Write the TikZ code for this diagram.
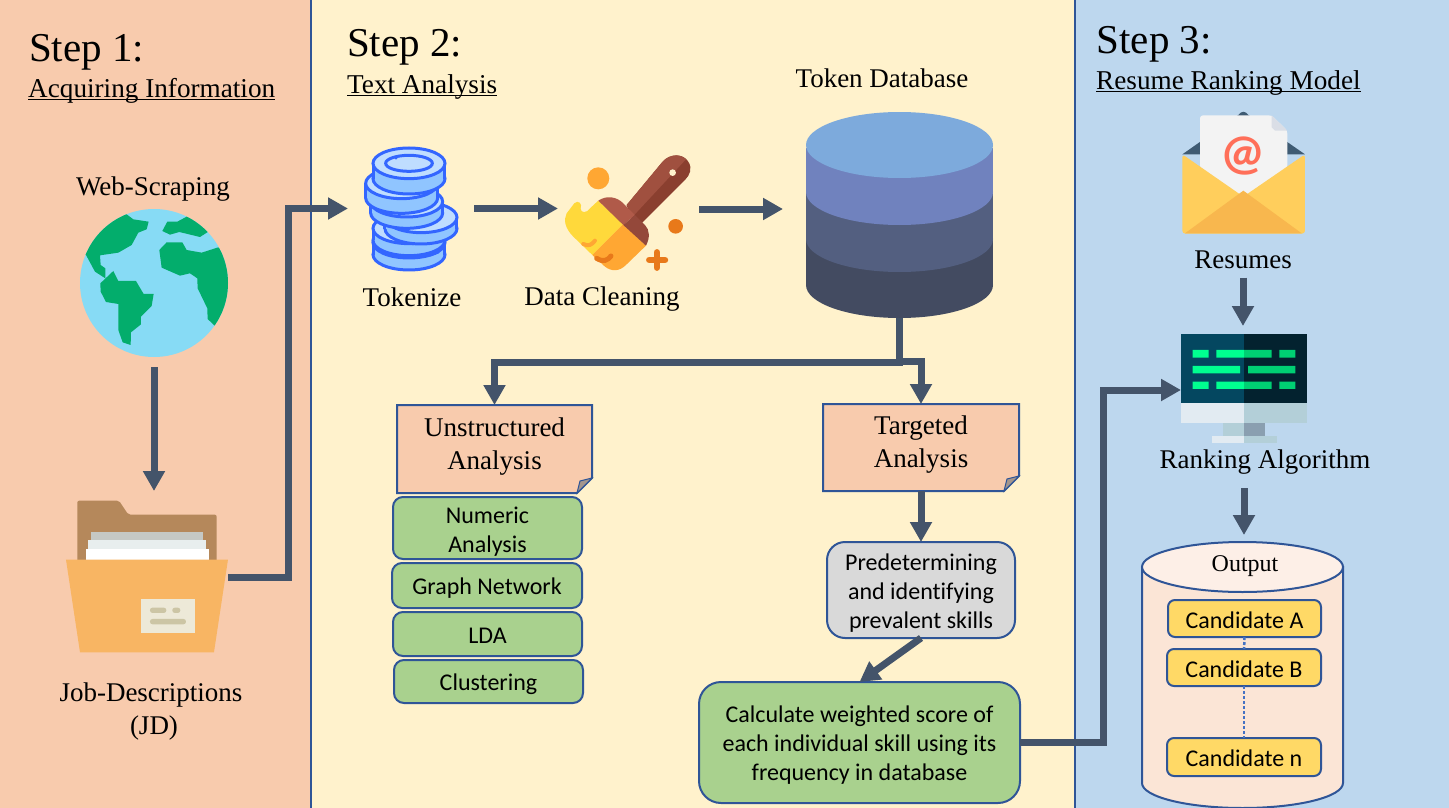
\documentclass[tikz,border=0pt]{standalone}
\usepackage{fontspec}
\setmainfont{Liberation Serif}
\newfontfamily\sansf[Ligatures=NoCommon]{Carlito}
\usetikzlibrary{arrows.meta,backgrounds,calc}
\definecolor{panA}{HTML}{F8CBAD}
\definecolor{panB}{HTML}{FFF2CC}
\definecolor{panC}{HTML}{BDD7EE}
\definecolor{edgeblue}{HTML}{2F5597}
\definecolor{conncol}{HTML}{44546A}
\definecolor{greenbox}{HTML}{A9D18E}
\definecolor{greybox}{HTML}{D9D9D9}
\definecolor{goldbox}{HTML}{FFD966}
\definecolor{coinline}{HTML}{3366FF}
\definecolor{coinfill}{HTML}{90C5FF}
\definecolor{coinlight}{HTML}{BFDDFF}
\definecolor{dotblue}{HTML}{4472C4}
\tikzset{
  conn/.style={draw=conncol,line width=7pt,line join=miter,-{Triangle[width=21pt,length=20pt]}},
  iconbox/.style={inner sep=0pt,outer sep=0pt,minimum width=#1},
  iconh/.style={minimum height=#1},
  serif27/.style={font=\fontsize{27}{33}\selectfont,align=center,inner sep=0pt},
  steptitle/.style={font=\fontsize{41}{44}\selectfont,anchor=base west,inner sep=0pt},
  subtitle/.style={font=\fontsize{27.2}{33}\selectfont,anchor=base west,inner sep=0pt},
  notebox/.style={inner sep=0pt,outer sep=0pt,minimum width=#1},
  notetext/.style={font=\fontsize{27}{33}\selectfont,align=center,inner sep=0pt,yshift=2.5pt},
  softbox/.style={draw=edgeblue,line width=2pt,rounded corners=#1,inner sep=0pt,outer sep=0pt,
     font=\sansf\fontsize{24}{29}\selectfont,align=center},
  twod/.style={dash pattern=on 3pt off 2pt,line width=2.5pt,draw=dotblue},
  cl/.style={draw=coinline,line width=3pt},
}
\newcommand{\ulin}[1]{\setbox0=\hbox{#1}\rlap{\rule[-3.2pt]{\wd0}{1.3pt}}\box0}
\newcommand{\lowr}[1]{\rule{0pt}{#1pt}}
\newcommand{\coinpiece}[3]{%
  \filldraw[cl,fill=coinfill] (#1,#2+#3) circle [x radius=108,y radius=46];
  \fill[coinfill] (#1-108,#2) rectangle (#1+108,#2+#3);
  \draw[cl] (#1-108,#2) -- (#1-108,#2+#3) (#1+108,#2) -- (#1+108,#2+#3);
  \filldraw[cl,fill=coinlight] (#1,#2) circle [x radius=108,y radius=46];
}
\newcommand{\foldshape}[1]{%
  \begin{pgfonlayer}{background}
    \filldraw[draw=edgeblue,line width=2pt,fill=panA,line join=miter]
      (#1.north west) -- (#1.north east) -- ([yshift=15pt]#1.south east)
      -- ([xshift=-15pt]#1.south east) -- (#1.south west) -- cycle;
    \filldraw[draw=edgeblue,line width=1pt,fill=gray!70!panA]
      ([yshift=15pt]#1.south east) -- ([xshift=-12pt,yshift=12pt]#1.south east)
      -- ([xshift=-15pt]#1.south east) -- cycle;
  \end{pgfonlayer}}
\begin{document}
\begin{tikzpicture}[x=1pt,y=-1pt]
\useasboundingbox (0,0) rectangle (1449,808);
\begin{pgfonlayer}{background}
  \fill[panA] (0,0) rectangle (311,808);
  \fill[panB] (311,0) rectangle (1075,808);
  \fill[panC] (1075,0) rectangle (1449,808);
  \draw[edgeblue,line width=1.5pt] (311,0) -- (311,808) (1075,0) -- (1075,808);
\end{pgfonlayer}

% titles
\node[steptitle] (s1) at (29,62) {Step 1:};
\node[subtitle] (s1b) at (28,97.3) {\ulin{Acquiring Information}};
\node[steptitle] (s2) at (347,57) {Step 2:};
\node[subtitle] (s2b) at (347,93) {\ulin{Text Analysis}};
\node[steptitle] (s3) at (1096.5,53.5) {Step 3:};
\node[subtitle] (s3b) at (1096,89.3) {\ulin{Resume Ranking Model}};

% globe
\node[circle,inner sep=0pt,outer sep=0pt,minimum size=148pt,fill={rgb,255:red,135;green,219;blue,245}] (globe) at (154,283) {};
\begin{scope}
\clip (154,283) circle [radius=74];
\begin{scope}[shift={(0,170)},x=0.3333pt,y=-0.3333pt]
\definecolor{land}{HTML}{03AD6C}
\fill[land] (380,133) -- (400,148) -- (446,155) -- (440,178) -- (415,188) -- (395,225) -- (355,248) -- (300,256) -- (302,285) -- (316,295) -- (316,325) -- (285,305) -- (258,255) -- (200,200) -- (300,100) -- cycle;
\fill[land] (340,303) -- (355,333) -- (408,333) -- (431,372) -- (461,372) -- (455,408) -- (423,440) -- (423,463) -- (393,487) -- (392,525) -- (368,517) -- (355,480) -- (355,402) -- (318,396) -- (302,365) -- (301,340) -- cycle;
\fill[land] (487,183) -- (502,155) -- (532,155) -- (560,140) -- (600,120) -- (640,170) -- (622,187) -- (600,201) -- (538,186) -- (510,194) -- cycle;
\fill[land] (478,240) -- (500,217) -- (547,217) -- (560,240) -- (605,248) -- (655,232) -- (720,300) -- (700,440) -- (645,468) -- (623,447) -- (622,415) -- (593,355) -- (592,325) -- (570,310) -- (540,317) -- (485,293) -- cycle;
\end{scope}
\end{scope}

% folder
\node[iconbox=162pt,iconh=152pt] (folder) at (147,577) {};
\begin{scope}[shift={(0,170)},x=0.3333pt,y=-0.3333pt]
\fill[rounded corners=2pt,color={rgb,255:red,181;green,136;blue,91}] (232,992) -- (357,992) -- (385,1034) -- (650,1034) -- (650,1175) -- (232,1175) -- cycle;
\fill[color={rgb,255:red,197;green,200;blue,196}] (273,1085) rectangle (609,1110);
\fill[color={rgb,255:red,232;green,238;blue,238}] (265,1110) rectangle (618,1136);
\fill[white] (257,1136) rectangle (626,1170);
\fill[color={rgb,255:red,248;green,181;blue,99}] (198,1169) -- (684,1169) -- (642,1447) -- (240,1447) -- cycle;
\fill[color={rgb,255:red,237;green,233;blue,216}] (424,1287) rectangle (584,1388);
\fill[rounded corners=2.5pt,color={rgb,255:red,204;green,197;blue,165}] (450,1313) rectangle (499,1329) (517,1313) rectangle (541,1329) (450,1347) rectangle (558,1363);
\end{scope}

% tokenize icon
\node[iconbox=93pt,iconh=125pt] (tok) at (411.5,208.5) {};
\begin{scope}[shift={(340,130)},x=0.3333pt,y=-0.3333pt]
\coinpiece{207}{338}{36}
\coinpiece{207}{295}{36}
\coinpiece{243}{262}{34}
\coinpiece{200}{215}{34}
\coinpiece{185}{160}{44}
\coinpiece{207}{100}{46}
\draw[cl] (207,100) circle [x radius=70,y radius=24];
\fill[coinline] (168,84) circle [radius=5] (250,378) circle [radius=6];
\draw[cl,line cap=round] (270,375) -- (295,366);
\end{scope}

% brush icon
\node[iconbox=126pt,iconh=124pt] (brush) at (628,209) {};
\begin{scope}[shift={(340,130)},x=0.3333pt,y=-0.3333pt]
\definecolor{hdark}{HTML}{8A3F2F}\definecolor{hlight}{HTML}{A0503F}
\definecolor{flight}{HTML}{B05A49}\definecolor{fdark}{HTML}{94483A}
\definecolor{byel}{HTML}{FFD93B}\definecolor{borg}{HTML}{FFA733}\definecolor{bdeep}{HTML}{E8791A}
\fill[hdark] (860,225) -- (968,95) .. controls (990,70) and (1030,70) .. (1045,95) .. controls (1058,115) and (1050,135) .. (1035,150) -- (885,300) -- cycle;
\fill[hlight] (860,225) -- (968,95) .. controls (990,70) and (1025,72) .. (1038,88) -- (880,258) -- cycle;
\fill[panB] (998,128) circle [radius=10];
\fill[byel] (775,212) -- (850,282) -- (757,375) -- (700,320) .. controls (675,295) and (670,270) .. (680,250) -- (703,220) .. controls (715,208) and (728,222) .. (722,235) .. controls (722,250) and (740,250) .. (750,235) -- cycle;
\fill[borg] (850,282) -- (918,347) -- (858,405) .. controls (838,425) and (815,425) .. (795,410) -- (757,375) -- cycle;
\fill[flight] (775,212) .. controls (800,195) and (830,200) .. (850,220) -- (885,255) -- (850,285) -- cycle;
\fill[fdark] (885,255) -- (915,285) .. controls (930,300) and (930,325) .. (918,347) -- (850,285) -- cycle;
\draw[borg,line width=4pt,line cap=round] (730,342) .. controls (745,350) and (755,345) .. (765,332);
\draw[bdeep,line width=5pt,line cap=round] (770,385) .. controls (790,398) and (805,390) .. (813,378);
\fill[borg] (775,145) circle [radius=33];
\fill[bdeep] (1007,289) circle [radius=22];
\draw[bdeep,line width=6.5pt,line cap=round] (951,367) -- (951,413) (928,390) -- (975,390);
\end{scope}

% database
\node[iconbox=187pt,iconh=206pt] (db) at (899.5,215) {};
\fill[color={rgb,255:red,67;green,75;blue,97}] (899.5,285) circle [x radius=93.5,y radius=33];
\fill[color={rgb,255:red,67;green,75;blue,97}] (806,148) rectangle (993,285);
\fill[color={rgb,255:red,83;green,95;blue,128}] (899.5,239) circle [x radius=93.5,y radius=33];
\fill[color={rgb,255:red,83;green,95;blue,128}] (806,148) rectangle (993,239);
\fill[color={rgb,255:red,112;green,130;blue,190}] (899.5,192) circle [x radius=93.5,y radius=33];
\fill[color={rgb,255:red,112;green,130;blue,190}] (806,148) rectangle (993,192);
\fill[color={rgb,255:red,125;green,170;blue,220}] (899.5,145) circle [x radius=93.5,y radius=33];

% envelope
\node[iconbox=124pt,iconh=122pt] (env) at (1243.5,173) {};
\begin{scope}[shift={(1150,100)},x=0.3333pt,y=-0.3333pt]
\fill[color={rgb,255:red,63;green,91;blue,115}] (97,163) -- (265,45) .. controls (275,32) and (285,32) .. (295,45) -- (465,163) -- cycle;
\fill[color={rgb,255:red,243;green,243;blue,243},rounded corners=3pt] (150,46) -- (365,46) -- (412,92) -- (412,205) -- (280,295) -- (150,205) -- cycle;
\fill[color={rgb,255:red,218;green,222;blue,230}] (365,46) -- (412,92) -- (375,92) -- (365,82) -- cycle;
\fill[color={rgb,255:red,255;green,206;blue,92},rounded corners=3pt] (97,163) -- (280,290) -- (465,163) -- (465,401) -- (97,401) -- cycle;
\fill[color={rgb,255:red,248;green,183;blue,78}] (105,400) -- (280,272) -- (455,400) -- cycle;
\end{scope}
\node[font=\sansf\bfseries\fontsize{50}{50}\selectfont,text={rgb,255:red,255;green,111;blue,89},inner sep=0pt] (atsign) at (1243,156) {@};

% monitor
\node[iconbox=126pt,iconh=112pt] (mon) at (1244,390) {};
\begin{scope}[shift={(1150,100)},x=0.3333pt,y=-0.3333pt]
\definecolor{gb}{HTML}{00FF90}\definecolor{gd}{HTML}{00CF73}
\definecolor{mlight}{HTML}{E2EBF2}\definecolor{mmid}{HTML}{B3CFD8}\definecolor{mdark}{HTML}{8A9FB0}
\fill[color={rgb,255:red,4;green,71;blue,96}] (93,703) rectangle (282,908);
\fill[color={rgb,255:red,3;green,34;blue,47}] (282,703) rectangle (471,908);
\fill[gb] (128,750) rectangle (176,773) (199,750) rectangle (282,773) (128,798) rectangle (270,820) (128,845) rectangle (176,867) (199,845) rectangle (282,867);
\fill[gd] (282,750) rectangle (365,773) (388,750) rectangle (436,773) (294,798) rectangle (436,820) (282,845) rectangle (365,867) (388,845) rectangle (436,867);
\fill[mlight] (93,908) rectangle (282,970);
\fill[mmid] (282,908) rectangle (471,970);
\fill[mmid] (220,970) rectangle (282,1008);
\fill[mdark] (282,970) rectangle (345,1008);
\fill[mlight] (185,1008) rectangle (282,1028);
\fill[mmid] (282,1008) rectangle (380,1028);
\end{scope}

% labels
\node[serif27] (lweb) at (153,189) {Web-Scraping};
\node[serif27] (ljd) at (151,712) {Job-Descriptions\\\hspace{6pt}(JD)};
\node[serif27] (ltok) at (412,297.5) {Tokenize};
\node[serif27] (lclean) at (602,299.5) {Data Cleaning};
\node[serif27] (ldb) at (882,78) {Token Database};
\node[serif27] (lres) at (1243,259.5) {Resumes};
\node[serif27] (lalg) at (1265,462) {Ranking Algorithm};

% notes
\node[notebox=195pt,minimum height=88pt,label={[notetext]center:{Unstructured\\Analysis}}] (unst) at (494.5,449) {};
\foldshape{unst}
\node[notebox=196pt,minimum height=87pt,label={[notetext]center:{Targeted\\Analysis}}] (targ) at (921,447.5) {};
\foldshape{targ}

% green list
\node[softbox=10pt,fill=greenbox,minimum width=189pt,minimum height=62pt] (numa) at (487.5,528) {\lowr{24.5}Numeric\\Analysis};
\node[softbox=10pt,fill=greenbox,minimum width=190pt,minimum height=45pt] (graph) at (487,585.5) {\lowr{22.5}Graph Network};
\node[softbox=10pt,fill=greenbox,minimum width=189pt,minimum height=44pt] (lda) at (487.5,634) {\lowr{19.5}LDA};
\node[softbox=10pt,fill=greenbox,minimum width=189pt,minimum height=43pt] (clus) at (488.5,681.5) {\lowr{22.5}Clustering};

\node[softbox=18pt,fill=greybox,minimum width=188pt,minimum height=96pt] (pred) at (921,590) {\lowr{22.5}Predetermining\\and identifying\\prevalent skills};
\node[softbox=22pt,fill=greenbox,minimum width=321pt,minimum height=121pt] (calc) at (859.5,742.5) {\lowr{22.5}Calculate weighted score of\\each individual skill using its\\frequency in database};

% output cylinder
\node[inner sep=0pt,outer sep=0pt,minimum width=201pt,minimum height=266pt] (out) at (1242.5,675) {};
\filldraw[draw=edgeblue,line width=2pt,fill={rgb,255:red,251;green,229;blue,214}] (1142,567) -- (1142,783) arc [start angle=180,end angle=360,x radius=100.5,y radius=-25] -- (1343,567) -- cycle;
\filldraw[draw=edgeblue,line width=2pt,fill={rgb,255:red,253;green,239;blue,231}] (1242.5,567) circle [x radius=100.5,y radius=25];
\node[font=\fontsize{24}{28}\selectfont,inner sep=0pt] (lout) at (1245,566) {Output};
\node[softbox=7pt,fill=goldbox,minimum width=153pt,minimum height=37pt] (ca) at (1244.5,618.5) {\lowr{19.5}Candidate A};
\node[softbox=7pt,fill=goldbox,minimum width=154pt,minimum height=37pt] (cb) at (1244,667.5) {\lowr{19.5}Candidate B};
\node[softbox=7pt,fill=goldbox,minimum width=154pt,minimum height=38pt] (cn) at (1244,757) {\lowr{19.5}Candidate n};
\draw[twod] (ca) -- (cb);
\draw[twod] (cb) -- (cn);

% connectors
\draw[conn,shorten <=10pt,shorten >=10pt] (globe.south) -- (globe.south |- folder.north);
\draw[conn,shorten >=17pt] (folder.east) -- ++(60.5,0) |- (tok.west);
\draw[conn,shorten <=16pt,shorten >=7pt] (tok.east) -- (tok.east -| brush.west);
\draw[conn,shorten <=8pt,shorten >=23pt] (brush.east) -- (brush.east -| db.west);
\draw[conn] (db.south) -- ++(0,44) -| (unst.north);
\draw[conn] (db.south) -- ++(0,43) -| (targ.north);
\draw[conn] (targ.south) -- (pred.north);
\draw[conn] (pred.south) -- (calc.north);
\draw[conn] (calc.east) -- ++(83,0) |- (mon.west);
\draw[conn,shorten <=9pt,shorten >=8pt] (lres.south) -- (lres.south |- mon.north);
\draw[conn,shorten <=14pt,shorten >=7pt] (mon.south |- lalg.south) -- (mon.south |- out.north);
\end{tikzpicture}
\end{document}
